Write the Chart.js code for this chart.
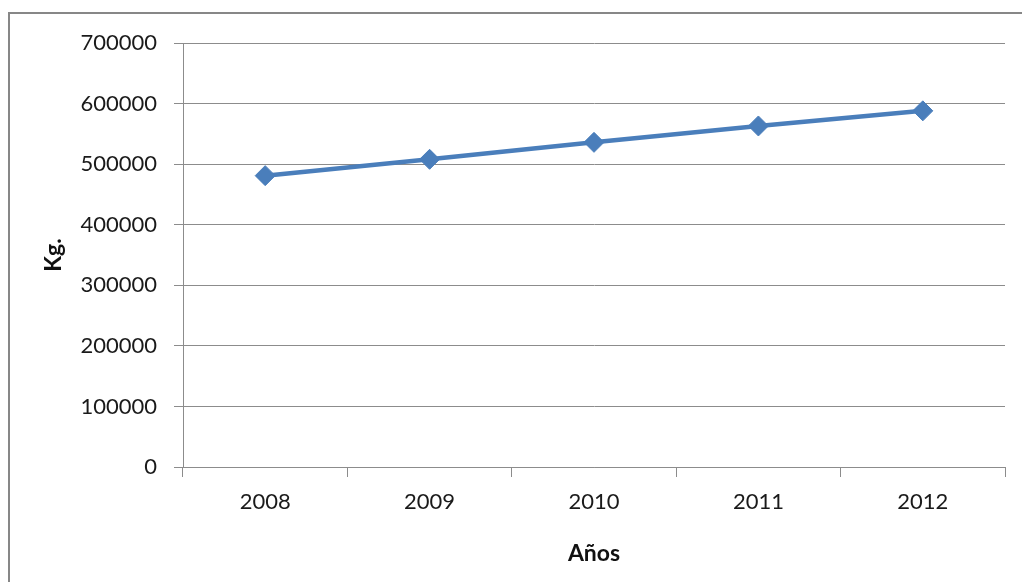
<!DOCTYPE html>
<html lang="es">
<head>
  <meta charset="UTF-8">
  <title>Kg. por año</title>
  <script src="https://cdn.jsdelivr.net/npm/chart.js"></script>
  <style>
    html, body {
      margin: 0;
      padding: 0;
      width: 1022px;
      height: 582px;
      overflow: hidden;
      background: #fff;
    }
    .frame {
      position: absolute;
      left: 8px;
      top: 12px;
      width: 1100px;
      height: 700px;
      border: 2px solid #878787;
    }
    .wrap {
      position: absolute;
      left: 0;
      top: 0;
      width: 1022px;
      height: 582px;
    }
  </style>
</head>
<body>
  <div class="frame"></div>
  <div class="wrap">
    <canvas id="chart" width="1022" height="582"></canvas>
  </div>

  <script>
    const years = ['2008', '2009', '2010', '2011', '2012'];
    const kilos = [481000, 508000, 536000, 563000, 588000];
    const yTicks = [0, 100000, 200000, 300000, 400000, 500000, 600000, 700000];

    const tickFont = { family: 'Lato, "Open Sans", sans-serif', size: 22 };
    const titleFont = { family: 'Lato, "Open Sans", sans-serif', size: 23, weight: 'bold' };
    const gridGray = '#8c8c8c';

    new Chart(document.getElementById('chart').getContext('2d'), {
      type: 'line',
      data: {
        labels: years,
        datasets: [{
          label: 'Kg.',
          data: kilos,
          borderColor: '#4a7ebb',
          backgroundColor: '#4a7ebb',
          borderWidth: 4.5,
          pointStyle: 'rectRot',
          pointRadius: 10,
          pointHoverRadius: 10,
          pointBorderWidth: 1,
          pointBackgroundColor: '#4a7ebb',
          tension: 0,
          fill: false
        }]
      },
      options: {
        responsive: false,
        animation: false,
        layout: { padding: { left: 0, top: 43, right: 17, bottom: 0 } },
        plugins: {
          legend: { display: false },
          tooltip: { enabled: false }
        },
        scales: {
          x: {
            offset: true,
            grid: {
              offset: true,
              drawOnChartArea: false,
              drawTicks: true,
              tickLength: 10,
              color: gridGray
            },
            border: { color: gridGray, width: 1 },
            ticks: { color: '#1a1a1a', font: tickFont, padding: 12, maxRotation: 0 },
            title: {
              display: true,
              text: 'Años',
              color: '#111',
              font: titleFont,
              padding: { top: 0, bottom: 15 }
            },
            afterFit: (scale) => { scale.height = 115; }
          },
          y: {
            min: 0,
            max: 700000,
            afterBuildTicks: (scale) => { scale.ticks = yTicks.map(v => ({ value: v })); },
            grid: {
              color: gridGray,
              tickLength: 9,
              drawTicks: true
            },
            border: { color: gridGray, width: 1 },
            ticks: {
              color: '#1a1a1a',
              font: tickFont,
              padding: 17,
              callback: (v) => String(v)
            },
            title: {
              display: true,
              text: 'Kg.',
              color: '#111',
              font: titleFont,
              padding: { top: 40, bottom: 0 }
            },
            afterFit: (scale) => { scale.width = 183; }
          }
        }
      }
    });
  </script>
</body>
</html>
